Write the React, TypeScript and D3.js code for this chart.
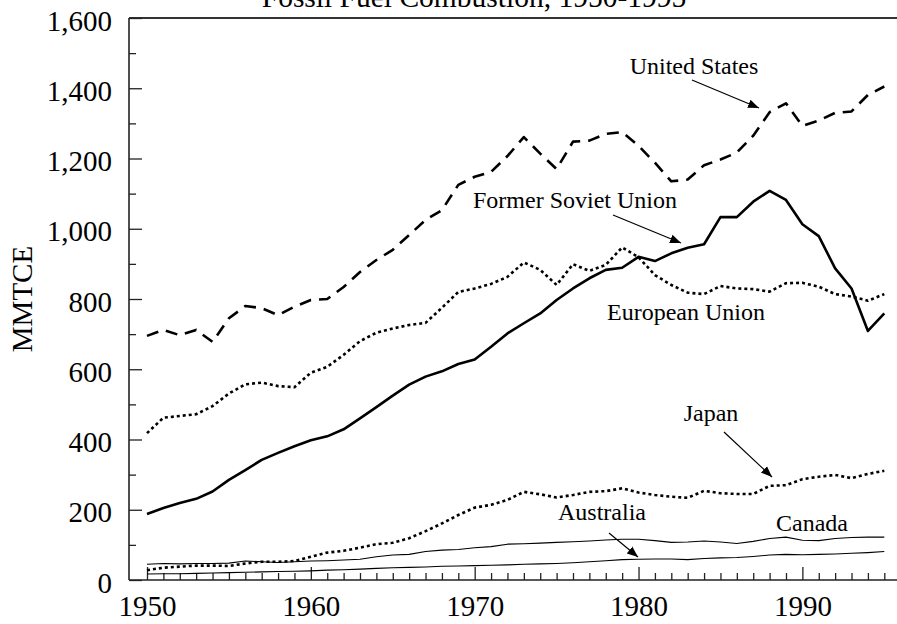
import React, { useEffect, useRef } from "react";
import * as d3 from "d3";

const years = d3.range(1950, 1996);

const unitedStates = [
  695, 712, 697, 712, 678, 745, 780, 774, 754, 778, 797, 800, 834, 877, 911,
  940, 982, 1025, 1053, 1125, 1148, 1162, 1207, 1261, 1214, 1170, 1248, 1251,
  1270, 1275, 1236, 1188, 1135, 1140, 1181, 1197, 1217, 1265, 1332, 1357, 1293,
  1308, 1330, 1334, 1381, 1405,
];
const formerSovietUnion = [
  188, 205, 219, 231, 252, 285, 313, 342, 362, 381, 398, 409, 429, 460, 492,
  525, 556, 579, 594, 615, 628, 664, 702, 731, 759, 797, 830, 859, 883, 889,
  920, 908, 930, 946, 956, 1033, 1033, 1077, 1108, 1082, 1013, 979, 887, 830,
  709, 759,
];
const europeanUnion = [
  418, 462, 467, 472, 495, 531, 557, 562, 552, 549, 590, 607, 641, 680, 704,
  716, 726, 732, 775, 820, 830, 843, 863, 904, 883, 840, 899, 880, 897, 947,
  919, 868, 840, 818, 814, 837, 830, 828, 821, 845, 846, 835, 814, 807, 795,
  814,
];
const japan = [
  28, 35, 38, 41, 41, 40, 47, 52, 52, 54, 66, 78, 83, 92, 102, 106, 119, 139,
  161, 185, 206, 214, 228, 251, 244, 235, 242, 251, 253, 261, 249, 242, 237,
  234, 254, 247, 245, 245, 268, 270, 287, 294, 299, 290, 302, 311,
];
const canada = [
  45, 47, 46, 47, 47, 48, 54, 52, 50, 52, 54, 55, 57, 59, 66, 71, 73, 81, 85,
  87, 92, 95, 102, 103, 105, 107, 109, 111, 114, 116, 116, 112, 107, 108, 111,
  108, 104, 110, 118, 122, 113, 112, 118, 121, 122, 122,
];
const australia = [
  17, 18, 18, 19, 20, 21, 22, 23, 24, 25, 26, 28, 29, 31, 33, 35, 36, 37, 39,
  40, 41, 42, 43, 45, 46, 47, 49, 52, 55, 58, 59, 60, 60, 58, 61, 63, 64, 67,
  71, 73, 72, 73, 74, 76, 78, 81,
];

const majorY = [0, 200, 400, 600, 800, 1000, 1200, 1400, 1600];
const minorY = [100, 300, 500, 700, 900, 1100, 1300, 1500];
const majorX = [1950, 1960, 1970, 1980, 1990];

const series = [
  { name: "United States", values: unitedStates, width: 2.6, dash: "12,8" },
  { name: "Former Soviet Union", values: formerSovietUnion, width: 2.6, dash: null },
  { name: "European Union", values: europeanUnion, width: 2.6, dash: "3,3" },
  { name: "Japan", values: japan, width: 2.6, dash: "3,3" },
  { name: "Canada", values: canada, width: 1.1, dash: null },
  { name: "Australia", values: australia, width: 1.1, dash: null },
];

// label positions in pixels, arrows as [x1, y1, x2, y2]
const annotations = [
  { text: "United States", x: 694, y: 74, arrow: [692, 80, 759, 108] },
  { text: "Former Soviet Union", x: 575, y: 208, arrow: [613, 215, 681, 243] },
  { text: "European Union", x: 686, y: 320, arrow: null },
  { text: "Japan", x: 711, y: 421, arrow: [724, 432, 772, 477] },
  { text: "Australia", x: 602, y: 520, arrow: [609, 533, 638, 557] },
  { text: "Canada", x: 812, y: 531, arrow: null },
];

const W = 897;
const H = 624;
const FONT = "Liberation Serif";

export default function App() {
  const yAxisRef = useRef<SVGGElement>(null);
  const yMinorRef = useRef<SVGGElement>(null);
  const xAxisRef = useRef<SVGGElement>(null);
  const xMinorRef = useRef<SVGGElement>(null);

  const x = d3.scaleLinear().domain([1950, 1995]).range([147, 884.3]);
  const y = d3.scaleLinear().domain([0, 1600]).range([580, 18]);

  useEffect(() => {
    const yAxis = d3
      .axisLeft(y)
      .tickValues(majorY)
      .tickSize(-13)
      .tickSizeOuter(0)
      .tickPadding(17)
      .tickFormat(d3.format(","));
    const gy = d3.select(yAxisRef.current!).call(yAxis as any);
    gy.select(".domain").remove();
    gy.selectAll("line").attr("stroke", "#222").attr("stroke-width", 1.3);
    gy.selectAll("text")
      .attr("dy", "0.42em")
      .style("font-family", FONT)
      .style("font-size", "29px")
      .attr("fill", "#000");

    const yMinor = d3.axisLeft(y).tickValues(minorY).tickSize(-7).tickFormat(() => "");
    const gym = d3.select(yMinorRef.current!).call(yMinor as any);
    gym.select(".domain").remove();
    gym.selectAll("line").attr("stroke", "#222").attr("stroke-width", 1.3);

    const xAxis = d3
      .axisBottom(x)
      .tickValues(majorX)
      .tickSize(-13)
      .tickSizeOuter(0)
      .tickPadding(15)
      .tickFormat(d3.format("d"));
    const gx = d3.select(xAxisRef.current!).call(xAxis as any);
    gx.select(".domain").remove();
    gx.selectAll("line").attr("stroke", "#222").attr("stroke-width", 1.3);
    gx.selectAll("text")
      .style("font-family", FONT)
      .style("font-size", "29px")
      .attr("fill", "#000");

    const xMinor = d3
      .axisBottom(x)
      .tickValues(years.filter((yr) => yr % 10 !== 0))
      .tickSize(-7)
      .tickFormat(() => "");
    const gxm = d3.select(xMinorRef.current!).call(xMinor as any);
    gxm.select(".domain").remove();
    gxm.selectAll("line").attr("stroke", "#222").attr("stroke-width", 1.3);
  }, []);

  const line = d3
    .line<number>()
    .x((_, i) => x(years[i]))
    .y((d) => y(d));

  return (
    <svg
      width={W}
      height={H}
      style={{ position: "absolute", left: 0, top: 0, background: "#fff" }}
      fontFamily={FONT}
    >
      <defs>
        <marker
          id="arrow"
          viewBox="0 0 10 10"
          refX="10"
          refY="5"
          markerWidth="11"
          markerHeight="11"
          markerUnits="userSpaceOnUse"
          orient="auto"
        >
          <path d="M0,1 L10,5 L0,9 Z" fill="#000" />
        </marker>
      </defs>

      <text x={474} y={7} textAnchor="middle" fontSize={29.5} fill="#000">
        Fossil Fuel Combustion, 1950-1995
      </text>

      {/* frame */}
      <line x1={129} x2={W} y1={18} y2={18} stroke="#333" strokeWidth={2} />
      <line x1={129} x2={129} y1={18} y2={580} stroke="#222" strokeWidth={1.6} />
      <line x1={129} x2={W} y1={580} y2={580} stroke="#222" strokeWidth={1.6} />

      <g ref={yAxisRef} transform="translate(129,0)" />
      <g ref={yMinorRef} transform="translate(129,0)" />
      <g ref={xAxisRef} transform="translate(0,580)" />
      <g ref={xMinorRef} transform="translate(0,580)" />

      <text
        transform={`translate(32,${(18 + 580) / 2}) rotate(-90)`}
        textAnchor="middle"
        fontSize={29}
        fill="#000"
      >
        MMTCE
      </text>

      {series.map((s) => (
        <path
          key={s.name}
          d={line(s.values) || ""}
          fill="none"
          stroke="#000"
          strokeWidth={s.width}
          strokeDasharray={s.dash || undefined}
          strokeLinejoin="round"
        />
      ))}

      {annotations.map((a) => (
        <g key={a.text}>
          <text x={a.x} y={a.y} textAnchor="middle" fontSize={24} fill="#000">
            {a.text}
          </text>
          {a.arrow && (
            <line
              x1={a.arrow[0]}
              y1={a.arrow[1]}
              x2={a.arrow[2]}
              y2={a.arrow[3]}
              stroke="#000"
              strokeWidth={1.2}
              markerEnd="url(#arrow)"
            />
          )}
        </g>
      ))}
    </svg>
  );
}
